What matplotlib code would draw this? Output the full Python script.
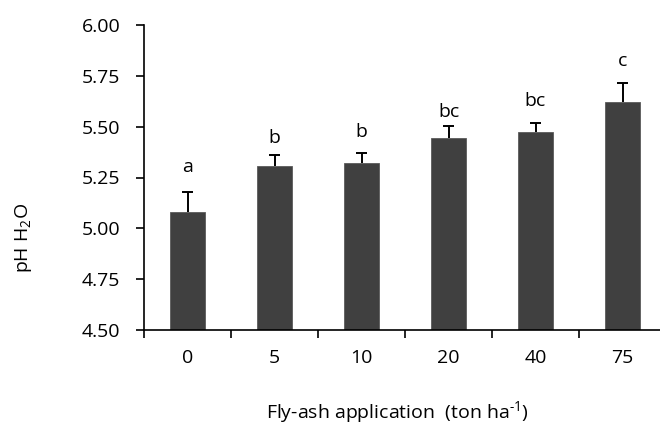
import matplotlib.pyplot as plt

plt.rcParams['font.family'] = ['Open Sans', 'DejaVu Sans']
plt.rcParams['mathtext.fontset'] = 'custom'
plt.rcParams['mathtext.rm'] = 'Open Sans'
plt.rcParams['mathtext.it'] = 'Open Sans'
plt.rcParams['mathtext.default'] = 'regular'

# Data
rates = ['0', '5', '10', '20', '40', '75']
ph_mean = [5.08, 5.305, 5.32, 5.445, 5.475, 5.62]
ph_err = [0.10, 0.055, 0.05, 0.06, 0.045, 0.095]
letters = ['a', 'b', 'b', 'bc', 'bc', 'c']
letter_y = [5.276, 5.42, 5.449, 5.548, 5.60, 5.80]

fig = plt.figure(figsize=(6.6, 4.26), dpi=100)
ax = fig.add_axes([144 / 660, 96 / 426, 522 / 660, 305 / 426])

x = list(range(len(rates)))
ax.bar(x, [m - 4.5 for m in ph_mean], bottom=4.5, width=0.395, color='#404040',
       edgecolor='#5a5a5a', linewidth=0.6, zorder=2)

# upper error bars only, with a cap on top
tops = [m + e for m, e in zip(ph_mean, ph_err)]
ax.vlines(x, ph_mean, tops, color='black', linewidth=1.4, zorder=3)
ax.hlines(tops, [i - 0.06 for i in x], [i + 0.06 for i in x], color='black',
          linewidth=1.4, zorder=3)

for i, (lab, ly) in enumerate(zip(letters, letter_y)):
    ax.text(i, ly, lab, ha='center', va='baseline', fontsize=14)

ax.set_xlim(-0.5, 5.5)
ax.set_ylim(4.5, 6.0)
ax.set_yticks([4.5, 4.75, 5.0, 5.25, 5.5, 5.75, 6.0])
ax.set_yticklabels(['4.50', '4.75', '5.00', '5.25', '5.50', '5.75', '6.00'], fontsize=14)
ax.set_xticks(x)
ax.set_xticklabels(rates, fontsize=14)
ax.set_xticks([i + 0.5 for i in range(5)] + [-0.5], minor=True)
ax.tick_params(axis='x', which='major', length=0, pad=14)
ax.tick_params(axis='x', which='minor', length=6, width=1.2, direction='out')
ax.tick_params(axis='y', length=6, width=1.2, direction='out', pad=11)

for s in ['top', 'right']:
    ax.spines[s].set_visible(False)
for s in ['left', 'bottom']:
    ax.spines[s].set_linewidth(1.2)

fig.text(24 / 660, 188 / 426, 'pH H$_2$O', rotation=90, ha='center', va='center', fontsize=14)
fig.text(397 / 660, 8 / 426, r'Fly-ash application  (ton ha$^{\text{-1}}$)', ha='center',
         va='baseline', fontsize=14)

fig.savefig('out.png', dpi=100)
